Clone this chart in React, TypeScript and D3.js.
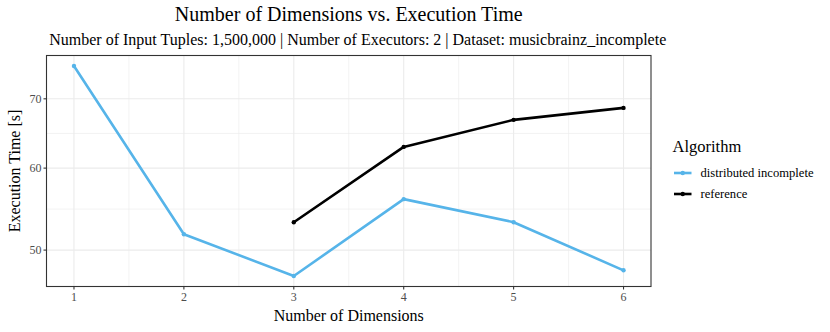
import React from 'react';
import * as d3 from 'd3';

const dimensions = [1, 2, 3, 4, 5, 6];
const distributedIncomplete = [75.3, 51.8, 47.2, 56.0, 53.2, 47.8];
const referenceDims = [3, 4, 5, 6];
const referenceTimes = [53.2, 62.9, 66.8, 68.6];
const yTicks = [50, 60, 70];
const seriesNames = ['distributed incomplete', 'reference'];
const seriesColors = ['#56B4E9', '#000000'];

const width = 830;
const height = 332;
const panel = { left: 46.5, right: 651, top: 55.5, bottom: 286.5 };
const font = '"Liberation Serif", "DejaVu Serif", serif';

const App = () => {
  const x = d3.scaleLinear().domain([0.75, 6.25]).range([panel.left, panel.right]);

  const all = distributedIncomplete.concat(referenceTimes);
  const lo = Math.log10(d3.min(all)!);
  const hi = Math.log10(d3.max(all)!);
  const pad = (hi - lo) * 0.05;
  const y = d3
    .scaleLog()
    .domain([Math.pow(10, lo - pad), Math.pow(10, hi + pad)])
    .range([panel.bottom, panel.top]);

  // minor breaks: midpoints in log space between majors
  const yMinor = [];
  for (let i = 0; i < yTicks.length - 1; i++) {
    yMinor.push(Math.sqrt(yTicks[i] * yTicks[i + 1]));
  }
  const xMinor = [1.5, 2.5, 3.5, 4.5, 5.5];

  const line = d3
    .line<[number, number]>()
    .x((d) => x(d[0]))
    .y((d) => y(d[1]));

  const series = [
    dimensions.map((d, i) => [d, distributedIncomplete[i]] as [number, number]),
    referenceDims.map((d, i) => [d, referenceTimes[i]] as [number, number]),
  ];

  const pw = panel.right - panel.left;
  const ph = panel.bottom - panel.top;
  const cx = (panel.left + panel.right) / 2;

  return (
    <svg
      width={width}
      height={height}
      style={{ position: 'absolute', left: 0, top: 0, background: '#fff' }}
      fontFamily={font}
    >
      <text x={cx} y={21} textAnchor="middle" fontSize={20} fill="#000">
        Number of Dimensions vs. Execution Time
      </text>
      <text x={cx + 9} y={45} textAnchor="middle" fontSize={16} fill="#000">
        Number of Input Tuples: 1,500,000 | Number of Executors: 2 | Dataset: musicbrainz_incomplete
      </text>

      <rect x={panel.left} y={panel.top} width={pw} height={ph} fill="#fff" />
      {/* grid */}
      {yMinor.map((v) => (
        <line key={'ym' + v} x1={panel.left} x2={panel.right} y1={y(v)} y2={y(v)} stroke="#EBEBEB" strokeWidth={0.6} />
      ))}
      {xMinor.map((v) => (
        <line key={'xm' + v} x1={x(v)} x2={x(v)} y1={panel.top} y2={panel.bottom} stroke="#EBEBEB" strokeWidth={0.6} />
      ))}
      {yTicks.map((v) => (
        <line key={'y' + v} x1={panel.left} x2={panel.right} y1={y(v)} y2={y(v)} stroke="#EBEBEB" strokeWidth={1.1} />
      ))}
      {dimensions.map((v) => (
        <line key={'x' + v} x1={x(v)} x2={x(v)} y1={panel.top} y2={panel.bottom} stroke="#EBEBEB" strokeWidth={1.1} />
      ))}

      {/* lines */}
      {series.map((s, i) => (
        <g key={seriesNames[i]}>
          <path d={line(s)!} fill="none" stroke={seriesColors[i]} strokeWidth={2.6} strokeLinejoin="round" />
          {s.map((p) => (
            <circle key={p[0]} cx={x(p[0])} cy={y(p[1])} r={2.2} fill={seriesColors[i]} />
          ))}
        </g>
      ))}

      <rect x={panel.left} y={panel.top} width={pw} height={ph} fill="none" stroke="#333333" strokeWidth={1.1} />

      {/* y axis */}
      {yTicks.map((v) => (
        <g key={'yt' + v}>
          <line x1={panel.left - 3} x2={panel.left} y1={y(v)} y2={y(v)} stroke="#333333" strokeWidth={1.1} />
          <text x={panel.left - 5} y={y(v)} dy="0.35em" textAnchor="end" fontSize={12} fill="#4D4D4D">
            {v}
          </text>
        </g>
      ))}
      {/* x axis */}
      {dimensions.map((v) => (
        <g key={'xt' + v}>
          <line x1={x(v)} x2={x(v)} y1={panel.bottom} y2={panel.bottom + 3} stroke="#333333" strokeWidth={1.1} />
          <text x={x(v)} y={panel.bottom + 14} textAnchor="middle" fontSize={12} fill="#4D4D4D">
            {v}
          </text>
        </g>
      ))}

      <text x={cx} y={321} textAnchor="middle" fontSize={16} fill="#000">
        Number of Dimensions
      </text>
      <text
        transform={`translate(20, ${(panel.top + panel.bottom) / 2}) rotate(-90)`}
        textAnchor="middle"
        fontSize={16}
        fill="#000"
      >
        Execution Time [s]
      </text>

      {/* legend */}
      <text x={672.5} y={152} fontSize={16.5} fill="#000">
        Algorithm
      </text>
      {seriesNames.map((name, i) => (
        <g key={'lg' + name} transform={`translate(674, ${173 + i * 21})`}>
          <line x1={0} x2={17.5} y1={0} y2={0} stroke={seriesColors[i]} strokeWidth={2.6} />
          <circle cx={8.75} cy={0} r={2.2} fill={seriesColors[i]} />
          <text x={26.5} y={0} dy="0.35em" fontSize={12.6} fill="#000">
            {name}
          </text>
        </g>
      ))}
    </svg>
  );
};

export default App;
